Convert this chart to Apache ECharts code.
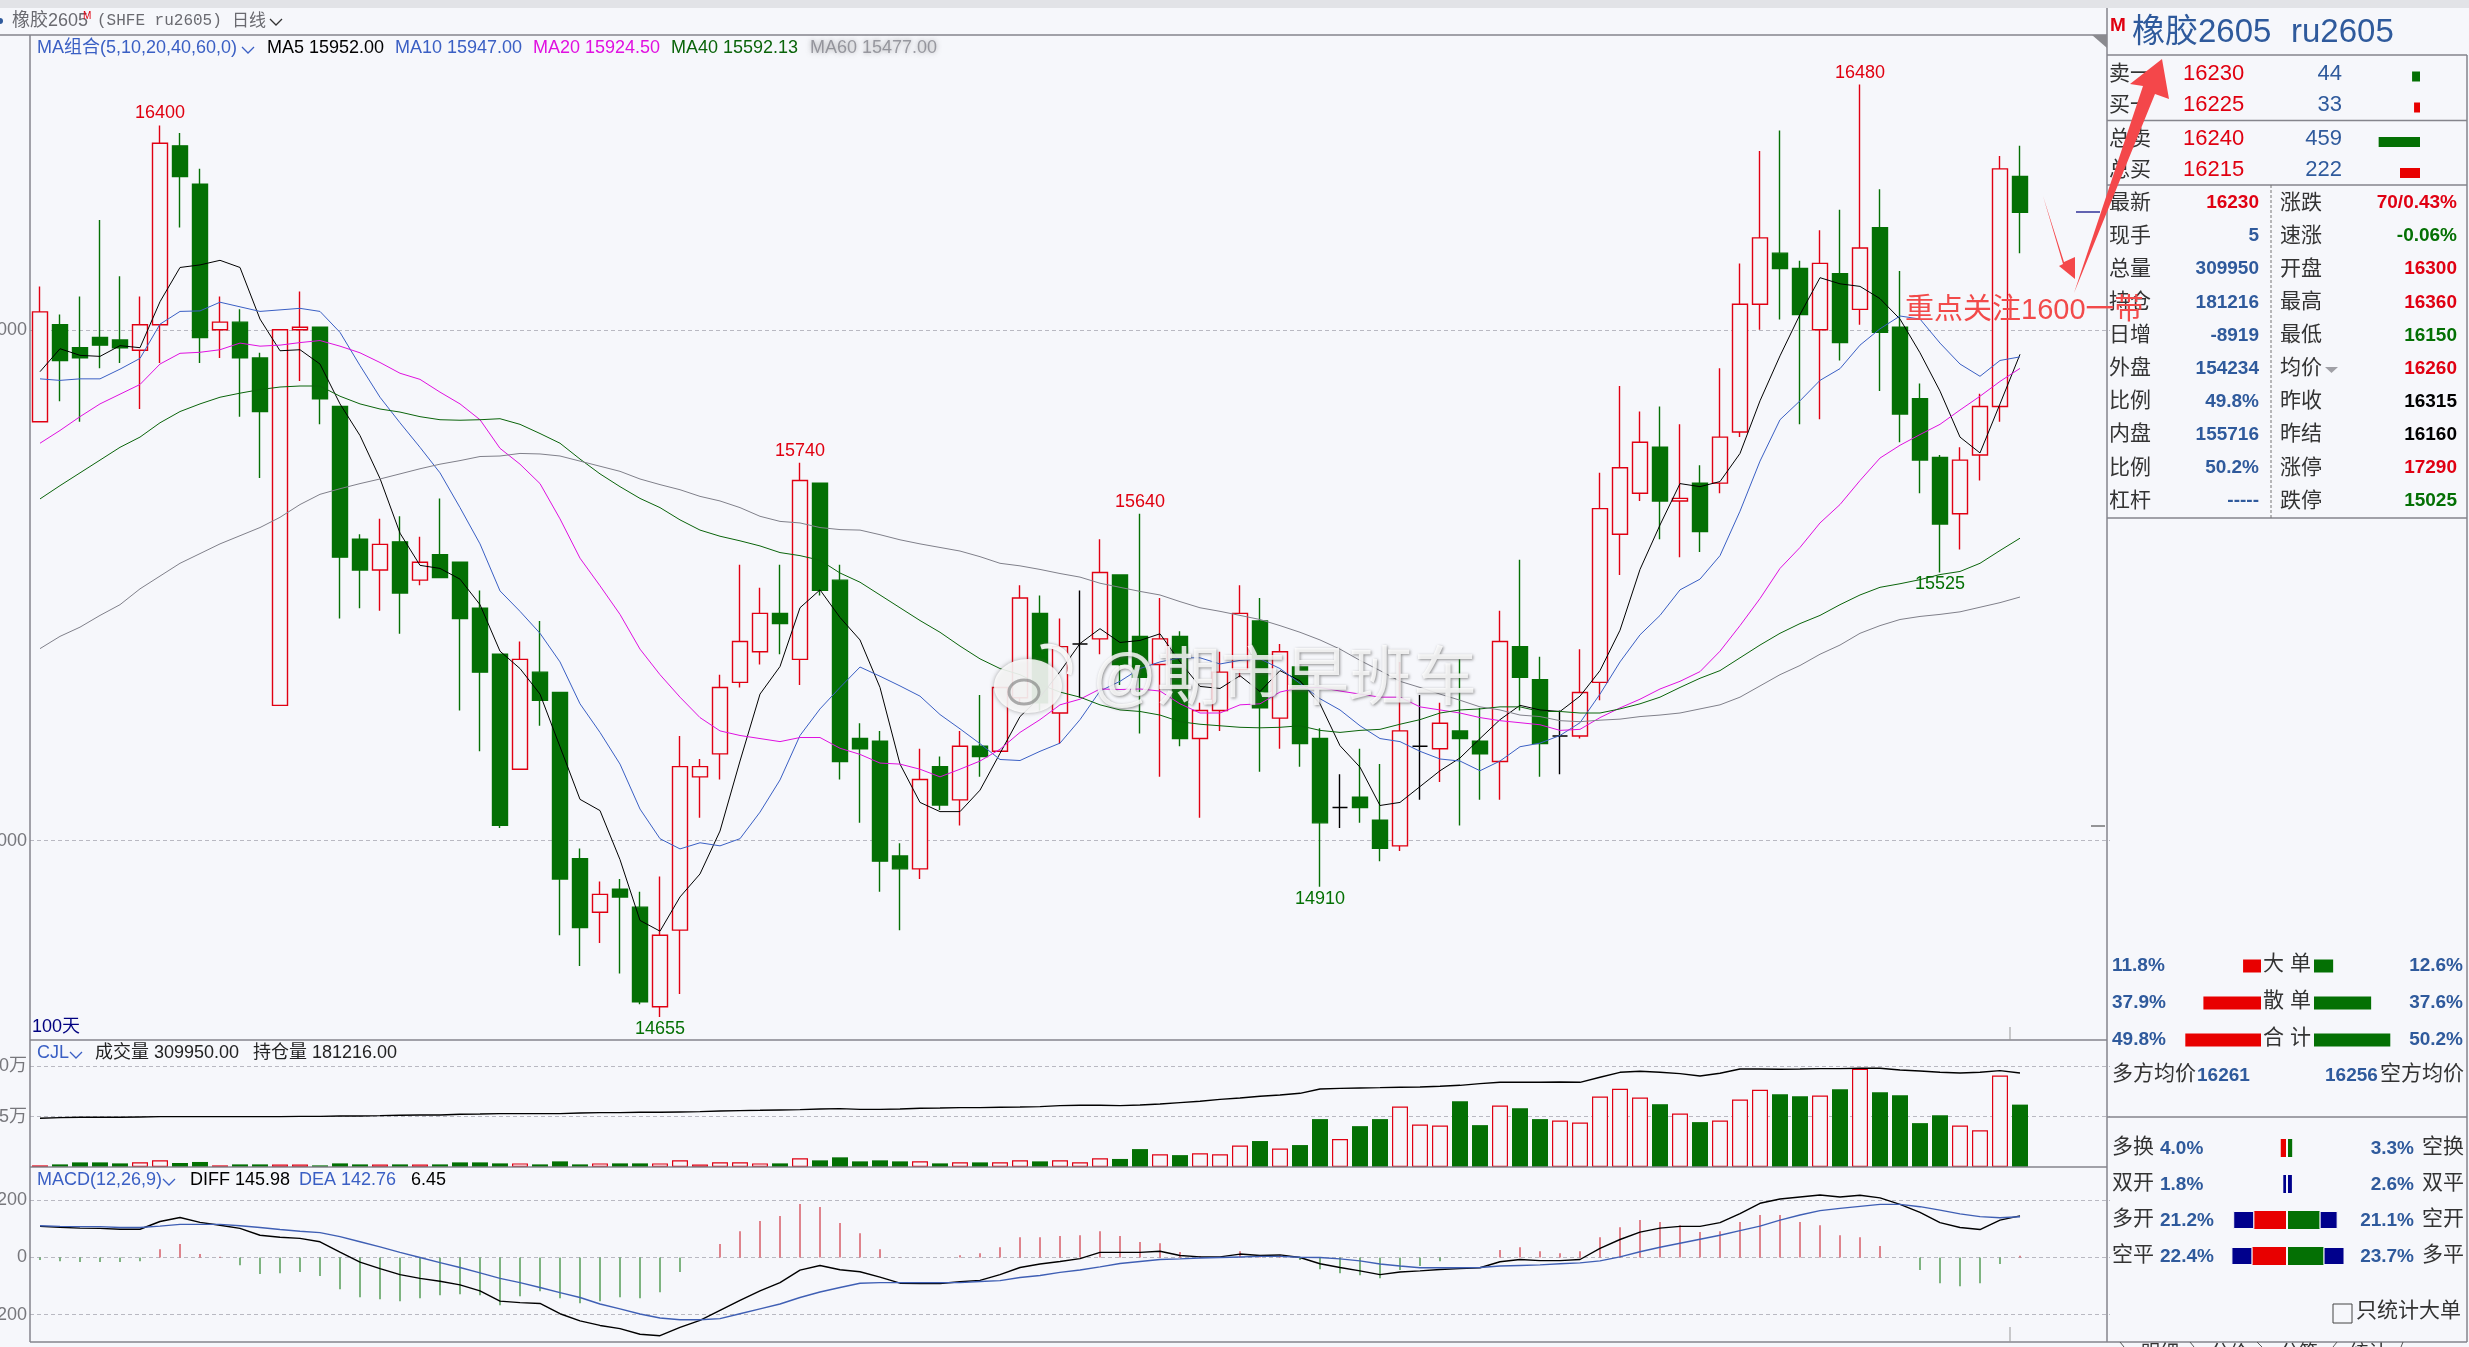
<!DOCTYPE html>
<html>
<head>
<meta charset="utf-8" />
<title>橡胶2605 日线</title>
<script src="https://cdn.jsdelivr.net/npm/echarts/dist/echarts.min.js"></script>
<style>
  html, body { margin: 0; padding: 0; background: #f6f7fb; overflow: hidden; }
  #main { width: 2469px; height: 1347px; }
</style>
</head>
<body>
<div id="main"></div>
<script type="text/javascript">
// 日K数据，共100天
var opens = [
  15820,16010,15965,15985,15980,15960,16010,16360,16285,16000,
  16015,15945,15265,16000,16005,15850,15590,15530,15585,15510,
  15560,15545,15455,15365,15140,15330,15290,14965,14860,14905,
  14870,14675,14825,15125,15170,15310,15370,15445,15355,15700,
  15510,15200,15195,14970,14945,15145,15080,15185,15175,15280,
  15445,15250,15385,15395,15520,15400,15345,15400,15200,15255,
  15335,15430,15240,15340,15200,15065,15085,15040,14990,15185,
  15180,15215,15195,15155,15380,15315,15205,15205,15310,15600,
  15680,15770,15665,15700,15700,15800,16050,16150,16120,16000,
  16110,16040,16200,16005,15865,15750,15640,15755,15850,16300
];
var closes = [
  16035,15940,15945,15970,15965,16010,16365,16300,15985,16015,
  15945,15840,16000,16005,15865,15555,15530,15580,15485,15545,
  15515,15435,15330,15030,15355,15275,14925,14830,14895,14890,
  14685,14815,15145,15145,15300,15390,15445,15425,15705,15490,
  15155,15180,14960,14945,15120,15070,15185,15165,15300,15475,
  15270,15380,15385,15525,15345,15320,15395,15200,15255,15330,
  15445,15260,15370,15190,15035,15065,15065,14985,15215,15185,
  15230,15200,15170,15390,15320,15190,15205,15290,15650,15730,
  15780,15665,15670,15605,15790,16050,16180,16120,16030,16130,
  15975,16160,15995,15835,15745,15620,15745,15850,16315,16230
];
var lows = [
  15820,15860,15820,15925,15935,15845,15935,16200,15935,15945,
  15830,15710,15265,15900,15815,15435,15455,15450,15405,15500,
  15515,15255,15175,15025,15140,15225,14815,14755,14800,14740,
  14680,14655,14700,15045,15120,15300,15345,15365,15305,15480,
  15120,15035,14900,14825,14925,15060,15030,15125,15175,15270,
  15255,15190,15280,15365,15305,15210,15125,15185,15045,15215,
  15320,15135,15180,15145,14910,15025,15035,14960,14980,15080,
  15115,15030,15080,15080,15255,15125,15130,15200,15275,15520,
  15665,15590,15555,15565,15680,15790,16000,16020,15815,15825,
  15940,16010,15880,15780,15680,15525,15570,15705,15820,16150
];
var highs = [
  16085,16030,16065,16215,16105,16065,16400,16385,16315,16065,
  16040,15955,16000,16075,16005,15850,15600,15630,15635,15595,
  15670,15545,15490,15365,15390,15430,15290,14985,14920,14925,
  14900,14930,15205,15160,15325,15540,15495,15540,15740,15700,
  15540,15230,15215,14995,15180,15165,15215,15285,15300,15500,
  15480,15435,15490,15590,15520,15640,15475,15410,15270,15370,
  15500,15475,15385,15340,15220,15130,15180,15150,15350,15285,
  15270,15355,15260,15450,15550,15360,15255,15375,15720,15890,
  15840,15850,15815,15735,15925,16130,16350,16390,16135,16195,
  16235,16480,16275,16115,15895,15755,15770,15875,16340,16360
];
var ma5 = [
  15918,15963,15950,15948,15969,15965,16055,16122,16127,16136,
  16122,16021,15959,15961,15933,15855,15793,15709,15602,15539,
  15533,15512,15462,15371,15337,15287,15184,15081,15059,14963,
  14844,14823,14890,14935,15019,15156,15287,15341,15456,15491,
  15437,15393,15300,15150,15075,15057,15057,15099,15171,15243,
  15281,15331,15386,15415,15388,15392,15405,15350,15302,15298,
  15323,15292,15333,15313,15268,15186,15144,15069,15075,15106,
  15137,15162,15200,15237,15265,15256,15253,15283,15333,15412,
  15531,15618,15699,15693,15703,15758,15861,15949,16030,16102,
  16090,16085,16061,16021,15955,15880,15790,15759,15855,15952
];
var ma10 = [
  15904,15901,15904,15904,15923,15944,16011,16036,16037,16054,
  16045,16036,16039,16042,16036,15995,15930,15868,15818,15770,
  15720,15652,15581,15489,15449,15406,15350,15268,15212,15150,
  15062,15004,14984,14996,14990,15004,15056,15119,15206,15258,
  15300,15340,15322,15303,15283,15247,15219,15190,15159,15157,
  15175,15191,15237,15293,15312,15337,15350,15358,15358,15346,
  15353,15356,15337,15308,15278,15256,15225,15200,15194,15175,
  15160,15156,15137,15156,15184,15191,15206,15231,15287,15350,
  15403,15441,15491,15512,15558,15645,15743,15824,15861,15901,
  15924,15970,16002,16027,16021,15974,15933,15909,15940,15947
];
var ma20 = [
  15778,15803,15830,15855,15874,15893,15933,15954,15956,15961,
  15974,15968,15970,15975,15979,15968,15955,15936,15915,15903,
  15878,15855,15824,15768,15737,15699,15630,15553,15499,15443,
  15375,15325,15281,15241,15215,15206,15200,15194,15202,15202,
  15181,15169,15152,15150,15140,15125,15140,15156,15179,15212,
  15237,15266,15277,15297,15296,15297,15293,15268,15250,15250,
  15266,15268,15291,15300,15300,15293,15287,15281,15281,15262,
  15256,15250,15241,15235,15231,15227,15216,15218,15241,15260,
  15277,15297,15312,15331,15371,15421,15474,15533,15574,15622,
  15658,15705,15749,15774,15795,15815,15843,15870,15899,15924.5
];
var ma40 = [
  15669,15695,15720,15745,15770,15790,15818,15840,15855,15868,
  15876,15883,15888,15890,15890,15870,15855,15845,15839,15830,
  15824,15823,15824,15826,15815,15797,15778,15747,15718,15693,
  15670,15652,15628,15608,15596,15587,15577,15564,15558,15549,
  15524,15506,15481,15456,15431,15408,15381,15356,15337,15325,
  15306,15291,15281,15266,15256,15253,15246,15233,15228,15225,
  15222,15221,15222,15225,15216,15212,15216,15218,15228,15237,
  15250,15256,15258,15262,15262,15253,15253,15250,15250,15258,
  15268,15281,15300,15318,15333,15358,15383,15406,15425,15441,
  15462,15481,15496,15503,15511,15521,15527,15543,15568,15592.13
];
var ma60 = [
  15376,15400,15418,15441,15462,15493,15518,15543,15562,15581,
  15597,15613,15633,15658,15678,15689,15699,15708,15718,15728,
  15737,15744,15752,15753,15758,15757,15753,15743,15733,15723,
  15708,15697,15687,15674,15665,15652,15635,15625,15622,15613,
  15609,15608,15599,15589,15581,15574,15567,15556,15543,15538,
  15531,15523,15516,15504,15496,15488,15481,15468,15456,15449,
  15441,15433,15421,15408,15393,15375,15353,15333,15312,15300,
  15287,15275,15262,15256,15246,15243,15235,15233,15236,15238,
  15243,15246,15250,15258,15266,15281,15303,15325,15343,15365,
  15383,15406,15421,15433,15439,15443,15448,15457,15466,15477
];
// 成交量、持仓量
var volumes = [
  8000,13000,23000,23000,18000,23000,33000,20000,25000,8000,
  13000,13000,13000,13000,8000,18000,13000,13000,13000,13000,
  13000,23000,23000,18000,18000,13000,28000,13000,18000,18000,
  18000,18000,33000,13000,23000,23000,18000,18000,43000,33000,
  48000,28000,33000,28000,28000,18000,23000,23000,23000,33000,
  28000,33000,23000,43000,40000,89000,63000,59000,68000,63000,
  107000,129000,92000,109000,238000,139000,203000,238000,300000,211000,
  206000,327000,208000,305000,292000,238000,231000,221000,350000,389000,
  345000,312000,266000,223000,231000,335000,384000,361000,351000,355000,
  386000,488000,371000,356000,218000,257000,206000,182000,454000,309950
];
var openInterest = [
  93900,95200,95800,95800,95800,96450,97100,97100,97100,97100,
  97100,97100,97100,97700,97700,98400,98400,99000,99700,100300,
  100300,101600,102200,102900,102900,102900,102900,104200,104800,104800,
  105500,105500,106100,106700,108000,108700,109300,110000,110600,111900,
  112500,111200,111200,111900,113200,113800,114500,114500,115100,115700,
  116400,118300,119000,119000,118300,119600,121500,124100,126700,130500,
  133100,136300,138900,142100,150500,151700,152400,153000,153700,154300,
  155600,157500,160800,163300,163300,163300,164000,163300,173000,182600,
  184500,182600,180000,175500,180700,189000,189000,188400,189000,189700,
  189700,190300,190300,187100,185200,182600,181300,182600,185800,181216
];
// MACD(12,26,9)
var diff = [
  109,106,103,102,99,99,126,140,123,113,
  102,78,71,67,55,19,-16,-39,-60,-73,
  -83,-96,-117,-153,-158,-161,-197,-222,-238,-249,
  -269,-274,-245,-220,-185,-150,-117,-88,-44,-28,
  -43,-50,-69,-90,-91,-91,-85,-80,-60,-35,
  -23,-14,-4,18,18,18,22,7,2,2,
  12,7,9,0,-22,-35,-47,-60,-51,-47,
  -42,-39,-36,-15,-7,-11,-11,-7,32,63,
  89,103,109,109,122,154,190,205,212,219,
  212,218,209,186,158,122,105,98,131,145.98
];
var dea = [
  111,109,108,108,105,105,110,116,116,116,
  111,105,98,92,87,73,55,37,18,0,
  -18,-35,-54,-73,-88,-105,-123,-140,-163,-180,
  -198,-212,-218,-218,-214,-197,-180,-163,-140,-121,
  -105,-90,-88,-88,-88,-88,-88,-84,-81,-70,
  -63,-52,-44,-33,-21,-14,-7,-5,-2,0,
  2,4,4,1,0,-5,-12,-23,-30,-36,
  -36,-36,-35,-30,-28,-26,-22,-19,-12,2,
  20,36,50,64,78,94,110,131,149,164,
  172,179,186,186,178,166,153,143,139,142.76
];
var macd = [
  -9,-13,-16,-16,-16,-13,29,47,12,3,
  -27,-58,-55,-51,-65,-111,-139,-146,-153,-143,
  -132,-129,-132,-167,-136,-118,-143,-160,-153,-139,
  -143,-122,-51,0,47,92,128,145,187,177,
  121,85,29,1,0,0,8,15,36,71,
  71,75,78,92,75,54,50,19,5,0,
  22,8,8,-9,-41,-55,-62,-73,-44,-30,
  -13,-1,0,26,36,22,15,22,71,106,
  131,124,113,89,92,124,149,149,124,113,
  78,71,40,0,-44,-90,-101,-90,-23,6.45
];
// 高低点标注
var peakIndex = [6, 38, 55, 91];
var troughIndex = [31, 64, 95];
// 坐标轴刻度
var priceTicks = [15000, 16000];
var volumeTicks = [250000, 500000];
var macdTicks = [-200, 0, 200];
// 右侧盘口
var bookRows = ['卖一', '买一', '总卖', '总买'];
var bookPrices = ['16230', '16225', '16240', '16215'];
var bookSizes = [44, 33, 459, 222];
var quoteLeftNames = ['最新', '现手', '总量', '持仓', '日增', '外盘', '比例', '内盘', '比例', '杠杆'];
var quoteLeftVals = ['16230', '5', '309950', '181216', '-8919', '154234', '49.8%', '155716', '50.2%', '-----'];
var quoteRightNames = ['涨跌', '速涨', '开盘', '最高', '最低', '均价', '昨收', '昨结', '涨停', '跌停'];
var quoteRightVals = ['70/0.43%', '-0.06%', '16300', '16360', '16150', '16260', '16315', '16160', '17290', '15025'];
// 大单统计
var orderNames = ['大 单', '散 单', '合 计'];
var orderBuy = [11.8, 37.9, 49.8];
var orderSell = [12.6, 37.6, 50.2];
var flowLeftNames = ['多换', '双开', '多开', '空平'];
var flowRightNames = ['空换', '双平', '空开', '多平'];
var flowLeftPct = [4.0, 1.8, 21.2, 22.4];
var flowRightPct = [3.3, 2.6, 21.1, 23.7];
var flowLeftOuter = [0, 1.8, 14, 14];
var flowRightOuter = [0, 2.6, 12, 14];
var flowLeftInner = [4.0, 0, 21.2, 22.4];
var flowRightInner = [3.3, 0, 21.1, 23.7];

var BG = '#f6f7fb', RED = '#e00012', GREEN = '#047004', BLUE = '#2f5a9c', MABLUE = '#3a5fc4';
var FONT = '"Liberation Sans","Noto Sans CJK SC",sans-serif';
var LINE = '#85858c';

var myChart = echarts.init(document.getElementById('main'));

var cats = [];
for (var i = 0; i < 104; i++) cats.push(String(i));

function hiddenCat(gridIndex) {
  return { type: 'category', gridIndex: gridIndex, data: cats, show: false, boundaryGap: true };
}
function splitDash() {
  return { show: true, lineStyle: { color: '#b9b9c2', type: [4, 3], width: 1 } };
}
function maLine(name, data, color) {
  return {
    name: name, type: 'line', data: data, xAxisIndex: 0, yAxisIndex: 0,
    showSymbol: false, silent: true, lineStyle: { color: color, width: 1 }, z: 5
  };
}
function pointLabels(idx, arr, color, pos) {
  return idx.map(function (k) {
    return {
      coord: [String(k), arr[k]], value: arr[k], symbolSize: 0,
      label: { show: true, position: pos, distance: 3, color: color, fontSize: 18, fontFamily: FONT, formatter: '{c}' }
    };
  });
}
function valueAxis(gridIndex, min, max, ticks, formatter) {
  return {
    type: 'value', gridIndex: gridIndex, min: min, max: max, axisLine: { show: false },
    axisTick: { show: false, customValues: ticks },
    axisLabel: { customValues: ticks, margin: 3, color: '#77777c', fontSize: 18, fontFamily: FONT, formatter: formatter },
    splitLine: splitDash()
  };
}

// 主图、成交量、MACD三个窗口
var grids = [
  { left: 30, top: 35, width: 2080, height: 1005, outerBoundsMode: 'none' },
  { left: 30, top: 1040, width: 2080, height: 127, outerBoundsMode: 'none' },
  { left: 30, top: 1167, width: 2080, height: 175, outerBoundsMode: 'none' }
];
var xAxes = [hiddenCat(0), hiddenCat(1), hiddenCat(2)];
var yAxes = [
  valueAxis(0, 14610, 16577, priceTicks, function (v) { return String(v); }),
  valueAxis(1, 0, 631000, volumeTicks, function (v) { return v / 10000 + '万'; }),
  { type: 'value', gridIndex: 1, min: 0, max: 244900, show: false, splitLine: { show: false } },
  valueAxis(2, -296, 317, macdTicks, function (v) { return String(v); })
];

var series = [
  {
    name: 'K', type: 'candlestick', xAxisIndex: 0, yAxisIndex: 0, barWidth: 16, silent: true,
    data: opens.map(function (o, k) { return [o, closes[k], lows[k], highs[k]]; }),
    itemStyle: {
      color: BG, color0: GREEN, borderColor: RED, borderColor0: GREEN,
      borderColorDoji: '#000', borderWidth: 1.4
    },
    markPoint: {
      silent: true, symbol: 'circle',
      data: pointLabels(peakIndex, highs, '#e00010', 'top').concat(pointLabels(troughIndex, lows, GREEN, 'bottom'))
    }
  },
  maLine('MA5', ma5, '#000'),
  maLine('MA10', ma10, MABLUE),
  maLine('MA20', ma20, '#e010e0'),
  maLine('MA40', ma40, '#0a640a'),
  maLine('MA60', ma60, '#80808a'),
  {
    name: '成交量', type: 'bar', xAxisIndex: 1, yAxisIndex: 1, barWidth: 16, silent: true,
    data: volumes.map(function (v, k) {
      var up = closes[k] >= opens[k];
      return { value: v, itemStyle: up ? { color: BG, borderColor: RED, borderWidth: 1.2 } : { color: GREEN } };
    })
  },
  {
    name: '持仓量', type: 'line', xAxisIndex: 1, yAxisIndex: 2, data: openInterest, showSymbol: false, silent: true,
    lineStyle: { color: '#000', width: 1.4 }, z: 5
  },
  {
    name: 'MACD', type: 'bar', xAxisIndex: 2, yAxisIndex: 3, barWidth: 1, silent: true,
    data: macd.map(function (v) { return { value: v, itemStyle: { color: v >= 0 ? '#c8101e' : GREEN } }; })
  },
  {
    name: 'DIFF', type: 'line', xAxisIndex: 2, yAxisIndex: 3, data: diff, showSymbol: false, silent: true,
    lineStyle: { color: '#000', width: 1.4 }, z: 5
  },
  {
    name: 'DEA', type: 'line', xAxisIndex: 2, yAxisIndex: 3, data: dea, showSymbol: false, silent: true,
    lineStyle: { color: '#3f5fb4', width: 1.4 }, z: 5
  }
];

// 右侧小条形图：每组一个grid，靠量程定长度
function addBarGrid(side, edge, top, height, max, names) {
  var idx = grids.length;
  grids.push(side === 'left'
    ? { left: edge - 100, top: top, width: 100, height: height, outerBoundsMode: 'none' }
    : { left: edge, top: top, width: 100, height: height, outerBoundsMode: 'none' });
  xAxes.push({ type: 'value', gridIndex: idx, min: 0, max: max, inverse: side === 'left', show: false, splitLine: { show: false } });
  yAxes.push({ type: 'category', gridIndex: idx, data: names, inverse: true, show: false });
  return { x: idx, y: yAxes.length - 1 };
}
function addBars(ax, values, colors, width, stack, extra) {
  series.push({
    type: 'bar', xAxisIndex: ax.x, yAxisIndex: ax.y, barWidth: width, stack: stack, silent: true,
    data: values.map(function (v, k) {
      var st = { color: Array.isArray(colors) ? colors[k] : colors };
      if (extra && extra[k]) { st.borderColor = BG; st.borderWidth = 1; }
      return { value: v, itemStyle: st };
    })
  });
}
var a1 = addBarGrid('left', 2420, 61, 62, 555, bookRows.slice(0, 2));
addBars(a1, bookSizes.slice(0, 2), [GREEN, '#e80000'], 10);
var a2 = addBarGrid('left', 2420, 126.5, 62, 1110, bookRows.slice(2));
addBars(a2, bookSizes.slice(2), [GREEN, '#e80000'], 10);
var a3 = addBarGrid('left', 2261, 947.5, 111, 65.8, orderNames);
addBars(a3, orderBuy, '#e80000', 13);
var a4 = addBarGrid('right', 2314, 947.5, 111, 65.8, orderNames);
addBars(a4, orderSell, GREEN, 13);
var a5 = addBarGrid('left', 2286, 1130, 144, 66.7, flowLeftNames);
addBars(a5, flowLeftInner, '#e80000', 18, 'l');
addBars(a5, flowLeftOuter, '#00008c', 18, 'l', flowLeftInner);
var a6 = addBarGrid('right', 2288, 1130, 144, 66.7, flowRightNames);
addBars(a6, flowRightInner, GREEN, 18, 'r');
addBars(a6, flowRightOuter, '#00008c', 18, 'r', flowRightInner);

// 文字和边框
var g = [];
function txt(x, y, s, fill, size, opt) {
  opt = opt || {};
  g.push({
    type: 'text', x: x, y: y, z: opt.z || 50, silent: true,
    style: {
      text: s, fill: fill, textAlign: opt.align || 'left', textVerticalAlign: 'middle',
      font: (opt.bold ? 'bold ' : '') + size + 'px ' + (opt.family || FONT),
      textShadowBlur: opt.blur || 0, textShadowColor: opt.shadow || 'transparent',
      textShadowOffsetX: opt.sx || 0, textShadowOffsetY: opt.sy || 0, opacity: opt.opacity == null ? 1 : opt.opacity
    }
  });
}
function line(x1, y1, x2, y2, color, w, dash) {
  g.push({
    type: 'line', z: 20, silent: true, shape: { x1: x1, y1: y1, x2: x2, y2: y2 },
    style: { stroke: color || LINE, lineWidth: w || 1.5, lineDash: dash || null }
  });
}
function chevron(x, y, color) {
  g.push({
    type: 'polyline', z: 50, silent: true, shape: { points: [[x, y - 3], [x + 6, y + 3], [x + 12, y - 3]] },
    style: { stroke: color, lineWidth: 1.3, fill: null }
  });
}
function poly(points, fill, z, opacity) {
  g.push({ type: 'polygon', z: z || 60, silent: true, shape: { points: points }, style: { fill: fill, opacity: opacity == null ? 1 : opacity } });
}

// 顶部
g.push({ type: 'rect', z: 10, silent: true, shape: { x: 0, y: 0, width: 2469, height: 8 }, style: { fill: '#e2e3e7' } });
g.push({ type: 'circle', z: 50, silent: true, shape: { cx: 0, cy: 21, r: 3 }, style: { fill: BLUE } });
txt(12, 21, '橡胶2605', '#6a6a70', 18);
txt(83, 16, 'M', '#e00010', 10);
txt(97, 21, '(SHFE ru2605)', '#6a6a70', 16, { family: '"Liberation Mono",monospace' });
txt(232, 21, '日线', '#6a6a70', 17);
chevron(270, 22, '#333');

// 图例行
txt(37, 48, 'MA组合(5,10,20,40,60,0)', MABLUE, 18);
chevron(242, 50, MABLUE);
txt(267, 48, 'MA5 15952.00', '#000', 18);
txt(395, 48, 'MA10 15947.00', MABLUE, 18);
txt(533, 48, 'MA20 15924.50', '#e010e0', 18);
txt(671, 48, 'MA40 15592.13', '#0a640a', 18);
txt(810, 48, 'MA60 15477.00', 'rgba(90,90,100,0.55)', 18, { blur: 5, shadow: '#666' });
txt(32, 1027, '100天', '#000080', 18);
txt(37, 1053, 'CJL', MABLUE, 18);
chevron(70, 1055, MABLUE);
txt(95, 1053, '成交量 309950.00', '#222', 18);
txt(253, 1053, '持仓量 181216.00', '#222', 18);
txt(37, 1180, 'MACD(12,26,9)', MABLUE, 18);
chevron(163, 1182, MABLUE);
txt(190, 1180, 'DIFF 145.98', '#000', 18);
txt(299, 1180, 'DEA 142.76', MABLUE, 18);
txt(411, 1180, '6.45', '#000', 18);

// 窗口边框
line(30, 35, 30, 1342);
line(0, 35, 2107, 35);
line(30, 1040, 2107, 1040);
line(30, 1167, 2107, 1167);
line(30, 1342, 2107, 1342);
line(2107, 8, 2107, 1342);
line(2467, 55, 2467, 1342);
poly([[2092, 35], [2107, 35], [2107, 48]], '#8a8a8f', 30);
line(2076, 212, 2100, 212, '#000080', 1.2);
line(2091, 826, 2105, 826, '#333', 1);
line(2010, 1027, 2010, 1040, '#999', 1);
line(2010, 1327, 2010, 1342, '#999', 1);

// 右侧标题
txt(2110, 26, 'M', '#e00010', 19, { bold: true });
txt(2132, 33, '橡胶2605', BLUE, 33);
txt(2291, 33, 'ru2605', BLUE, 33);
line(2107, 55, 2467, 55);
line(2107, 120.5, 2467, 120.5);
line(2107, 185, 2467, 185);
line(2107, 518, 2467, 518);
line(2271, 185, 2271, 518, '#777', 1, [3, 2]);

var bookY = [74, 105, 139, 170];
bookRows.forEach(function (name, k) {
  txt(2109, bookY[k], name, '#333', 21);
  txt(2183, bookY[k], bookPrices[k], '#e00010', 22);
  txt(2342, bookY[k], String(bookSizes[k]), BLUE, 22, { align: 'right' });
});
var rightColors = [RED, GREEN, RED, RED, GREEN, RED, '#000', '#000', RED, GREEN];
quoteLeftNames.forEach(function (name, k) {
  var y = 203 + k * 33.1;
  txt(2109, y, name, '#333', 21);
  txt(2259, y, quoteLeftVals[k], k === 0 ? RED : BLUE, 19, { bold: true, align: 'right' });
  txt(2280, y, quoteRightNames[k], '#333', 21);
  txt(2457, y, quoteRightVals[k], rightColors[k], 19, { bold: true, align: 'right' });
});
poly([[2325, 367], [2338, 367], [2331.5, 373]], '#a0a0a6', 50);

// 大单统计
var orderY = [966, 1003, 1040];
orderNames.forEach(function (name, k) {
  txt(2112, orderY[k], orderBuy[k].toFixed(1) + '%', BLUE, 19, { bold: true });
  txt(2287, orderY[k] - 2, name, '#333', 21, { align: 'center' });
  txt(2463, orderY[k], orderSell[k].toFixed(1) + '%', BLUE, 19, { bold: true, align: 'right' });
});
txt(2112, 1074, '多方均价', '#333', 21);
txt(2197, 1076, '16261', BLUE, 19, { bold: true });
txt(2325, 1076, '16256', BLUE, 19, { bold: true });
txt(2380, 1074, '空方均价', '#333', 21);
line(2107, 1117, 2467, 1117);

var flowY = [1147, 1183, 1219, 1255];
flowLeftNames.forEach(function (name, k) {
  txt(2112, flowY[k], name, '#333', 21);
  txt(2160, flowY[k] + 2, flowLeftPct[k].toFixed(1) + '%', BLUE, 19, { bold: true });
  txt(2414, flowY[k] + 2, flowRightPct[k].toFixed(1) + '%', BLUE, 19, { bold: true, align: 'right' });
  txt(2422, flowY[k], flowRightNames[k], '#333', 21);
});
g.push({ type: 'rect', z: 50, silent: true, shape: { x: 2333, y: 1304, width: 19, height: 19 }, style: { fill: 'none', stroke: '#444', lineWidth: 1 } });
txt(2356, 1311, '只统计大单', '#333', 21);

// 底部标签页，只露出上沿
line(2107, 1342, 2467, 1342);
['明细', '分价', '分笔', '统计'].forEach(function (s, k) {
  txt(2160 + k * 69.5, 1354, s, '#333', 19, { align: 'center' });
});
[[2120, 2124], [2190, 2194], [2257, 2262], [2337, 2333], [2403, 2401]].forEach(function (p) {
  line(p[0], 1342, p[1], 1347, '#555', 1);
});

// 水印
var wmZ = 70;
g.push({ type: 'ellipse', z: wmZ, silent: true, shape: { cx: 1028, cy: 686, rx: 34, ry: 27 }, style: { fill: 'rgba(255,255,255,0.85)', shadowBlur: 4, shadowColor: 'rgba(90,90,90,0.6)' } });
g.push({ type: 'ellipse', z: wmZ, silent: true, shape: { cx: 1024, cy: 692, rx: 15, ry: 12 }, style: { fill: 'none', stroke: 'rgba(110,110,110,0.55)', lineWidth: 3 } });
g.push({ type: 'arc', z: wmZ, silent: true, shape: { cx: 1048, cy: 668, r: 22, startAngle: -1.9, endAngle: 0.3 }, style: { fill: 'none', stroke: 'rgba(255,255,255,0.9)', lineWidth: 5, shadowBlur: 3, shadowColor: 'rgba(90,90,90,0.6)' } });
txt(1092, 681, '@期市早班车', 'rgba(255,255,255,0.82)', 64, { z: wmZ, blur: 3, shadow: 'rgba(80,80,80,0.75)', sx: 1, sy: 1 });

// 手绘标注
txt(1905, 311, '重点关注1600一带', '#f24a4a', 29, { z: 80 });
poly([[2074, 293], [2143, 86], [2130, 84], [2162, 59], [2169, 99], [2155, 94]], '#f4474a', 80);
poly([[2043, 196], [2064, 262], [2075, 257], [2075, 279], [2059, 266], [2063, 264]], '#f4474a', 80);

myChart.setOption({
  animation: false,
  backgroundColor: BG,
  textStyle: { fontFamily: FONT },
  grid: grids,
  xAxis: xAxes,
  yAxis: yAxes,
  series: series,
  graphic: { elements: g }
});
</script>
</body>
</html>
